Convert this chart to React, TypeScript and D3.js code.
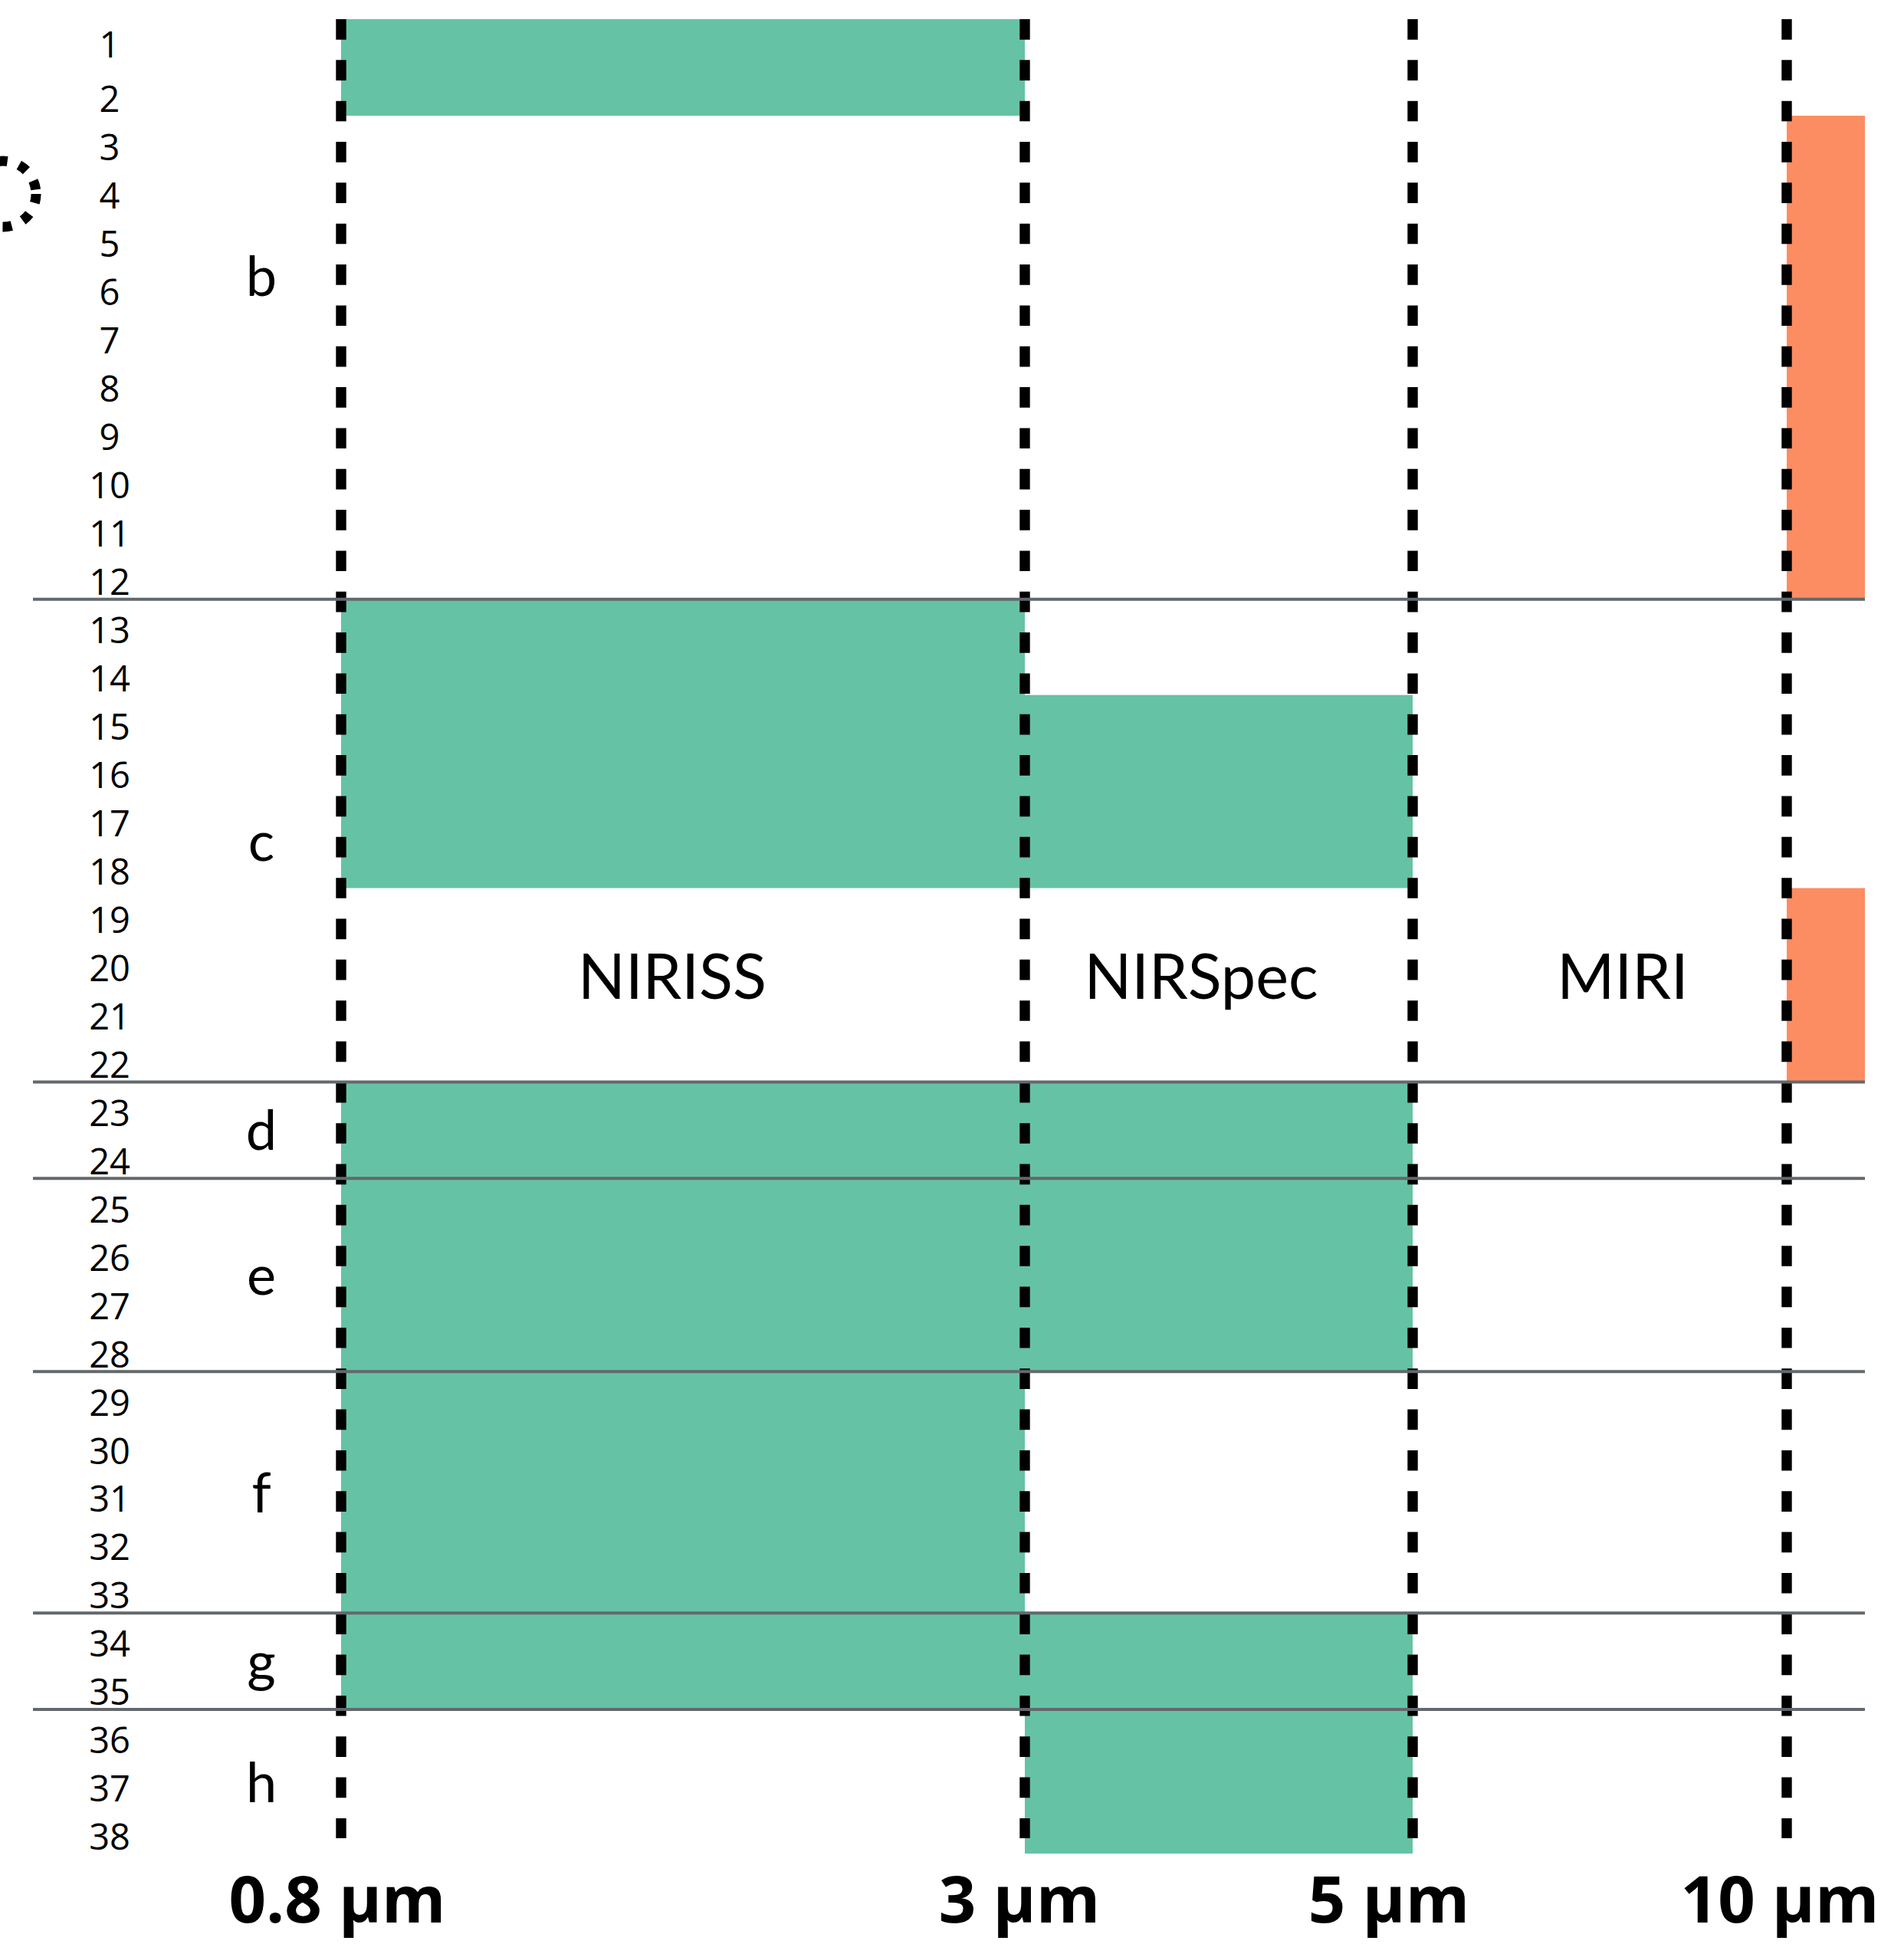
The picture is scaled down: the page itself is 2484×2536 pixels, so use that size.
import React from "react";
import * as d3 from "d3";

// ---------- data ----------
const rowLabels = [
  "1","2","3","4","5","6","7","8","9","10","11","12","13","14","15","16","17","18","19",
  "20","21","22","23","24","25","26","27","28","29","30","31","32","33","34","35","36","37","38",
];
const groupNames = ["b", "c", "d", "e", "f", "g", "h"];
const groupFirstRow = [1, 13, 23, 25, 29, 34, 36];
const groupLastRow = [12, 22, 24, 28, 33, 35, 38];
const groupLabelRow = [5.3, 17, 23, 26, 30.5, 34, 36.5];

const wavelengthTicks = [0.8, 3, 5, 10];
const tickLabels = ["0.8 µm", "3 µm", "5 µm", "10 µm"];
const wavelengthEnd = 12;

const instrumentNames = ["NIRISS", "NIRSpec", "MIRI"];
const instrumentFrom = [0.8, 3, 5];
const instrumentTo = [3, 5, 10];

// bars: wavelength span, first/last row (inclusive), kind
const barFrom = [0.8, 10, 0.8, 3, 10, 0.8, 3, 0.8, 3, 0.8, 0.8, 3, 3];
const barTo = [3, 12, 3, 5, 12, 3, 5, 3, 5, 3, 3, 5, 5];
const barFirstRow = [1, 3, 13, 15, 19, 23, 23, 25, 25, 29, 34, 34, 36];
const barLastRow = [2, 12, 18, 18, 22, 24, 24, 28, 28, 33, 35, 35, 38];
const barKind = ["nir", "mir", "nir", "nir", "mir", "nir", "nir", "nir", "nir", "nir", "nir", "nir", "nir"];

// ---------- layout ----------
const W = 2484;
const H = 2536;
const colors: Record<string, string> = { nir: "#66c2a5", mir: "#fc8d62" };

const x = d3
  .scaleLinear()
  .domain([...wavelengthTicks, wavelengthEnd])
  .range([445, 1337, 1843, 2331, 2433]);
const y = d3.scaleLinear().domain([0, rowLabels.length]).range([25, 2418]);

const tickDx = [-5, -7, -31, -9];
const instDx = [-14, -23, 30];

export default function App() {
  const rowLabelX = 143;
  const groupLabelX = 341;
  const sepX0 = 43;
  const sepX1 = x(wavelengthEnd);
  const dashTop = y(0);
  const dashBottom = 2398;

  return (
    <svg
      width={W}
      height={H}
      viewBox={`0 0 ${W} ${H}`}
      style={{ position: "absolute", left: 0, top: 0, display: "block", background: "#fff" }}
    >
      <rect x={0} y={0} width={W} height={H} fill="#ffffff" />

      {/* cropped dotted circle at left edge */}
      <circle cx={4} cy={253} r={43} fill="none" stroke="#000" strokeWidth={13} strokeDasharray="12 16" />

      {/* bars */}
      {barFrom.map((f, i) => (
        <rect
          key={"bar" + i}
          x={x(f)}
          y={y(barFirstRow[i] - 1)}
          width={x(barTo[i]) - x(f)}
          height={y(barLastRow[i]) - y(barFirstRow[i] - 1)}
          fill={colors[barKind[i]]}
        />
      ))}

      {/* dashed wavelength lines */}
      {wavelengthTicks.map((w, i) => (
        <line
          key={"dash" + i}
          x1={x(w)}
          x2={x(w)}
          y1={dashTop}
          y2={dashBottom}
          stroke="#000"
          strokeWidth={13.4}
          strokeDasharray="26.67 26.67"
        />
      ))}

      {/* group separators */}
      {groupLastRow.slice(0, -1).map((r, i) => (
        <line
          key={"sep" + i}
          x1={sepX0}
          x2={sepX1}
          y1={y(r) + 1}
          y2={y(r) + 1}
          stroke="#63686c"
          strokeWidth={4}
        />
      ))}

      {/* row numbers */}
      {rowLabels.map((t, i) => (
        <text
          key={"row" + i}
          x={rowLabelX}
          y={y(i + 0.5) + (i === 0 ? 2 : 10) + 16.8}
          textAnchor="middle"
          fontFamily="'Open Sans', sans-serif"
          fontSize={47}
          fill="#000"
        >
          {t}
        </text>
      ))}

      {/* group letters */}
      {groupNames.map((g, i) => (
        <text
          key={"grp" + i}
          x={groupLabelX}
          y={y(groupLabelRow[i]) + 27}
          textAnchor="middle"
          fontFamily="Lato, sans-serif"
          fontSize={72}
          fill="#000"
        >
          {g}
        </text>
      ))}

      {/* instrument names */}
      {instrumentNames.map((n, i) => (
        <text
          key={"inst" + i}
          x={(x(instrumentFrom[i]) + x(instrumentTo[i])) / 2 + instDx[i]}
          y={1303}
          textAnchor="middle"
          fontFamily="Lato, sans-serif"
          fontSize={81}
          fill="#000"
        >
          {n}
        </text>
      ))}

      {/* wavelength tick labels */}
      {wavelengthTicks.map((w, i) => (
        <text
          key={"tick" + i}
          x={x(w) + tickDx[i]}
          y={2508}
          textAnchor="middle"
          fontFamily="'Open Sans', sans-serif"
          fontWeight={700}
          fontSize={85}
          fill="#000"
        >
          {tickLabels[i]}
        </text>
      ))}
    </svg>
  );
}
